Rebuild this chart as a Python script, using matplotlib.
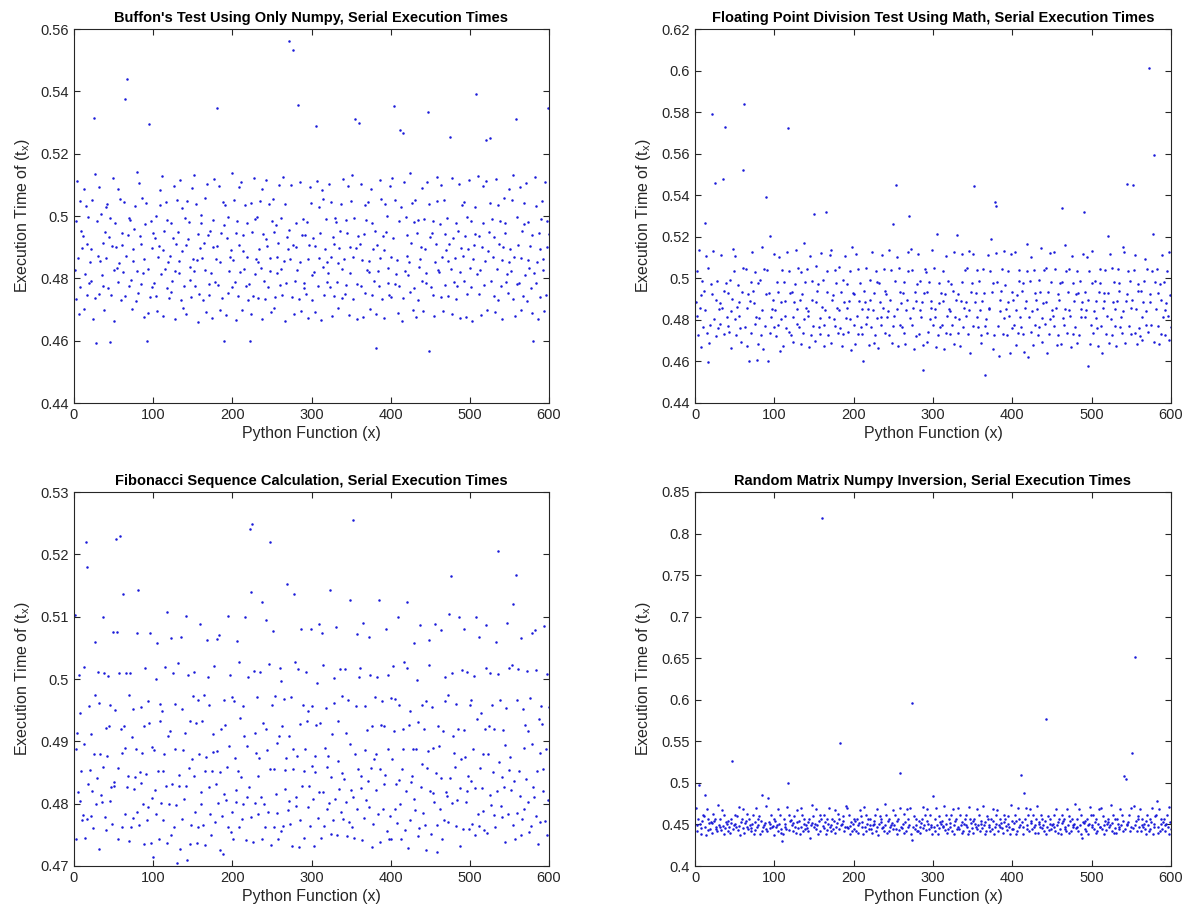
import numpy as np
import matplotlib
matplotlib.use('Agg')
import matplotlib.pyplot as plt
from matplotlib.ticker import MultipleLocator, FuncFormatter

plt.rcParams['font.family'] = ['Liberation Sans', 'DejaVu Sans']
plt.rcParams['mathtext.fontset'] = 'custom'
plt.rcParams['mathtext.rm'] = 'Liberation Sans'
plt.rcParams['mathtext.it'] = 'Liberation Sans'

# serial execution times per call, in units of 1e-4 s
buffon = [
    4827, 4983, 4733, 5112, 4866, 4684, 5047, 4772, 4951, 4896, 4936, 4702, 5088, 4815, 5031, 4748, 4909, 4997, 4785, 4853,
    4791, 4894, 5052, 4671, 5315, 4736, 5134, 4592, 4985, 4872, 5093, 4751, 4857, 5006, 4811, 4913, 4777, 4697, 4948, 5029,
    4864, 5038, 4768, 4932, 4597, 4992, 4745, 4905, 5121, 4826, 4663, 4979, 4901, 4834, 4789, 5087, 4848, 5054, 4731, 4944,
    4907, 4819, 5046, 4742, 5375, 4871, 5440, 4938, 4995, 4776, 4986, 4794, 4701, 4855, 4893, 4957, 5033, 4728, 4824, 5142,
    4752, 5106, 4935, 4911, 4781, 5059, 4817, 4862, 4676, 4974, 5041, 4600, 4829, 4688, 5295, 4739, 4983, 4897, 4773, 4947,
    4786, 4929, 4744, 5001, 4695, 4868, 4904, 5083, 5036, 4813, 5127, 4679, 4892, 4953, 4831, 5044, 4769, 4988, 4851, 4737,
    4873, 4755, 4979, 4792, 4931, 5096, 4668, 4822, 4910, 5050, 4949, 4816, 4856, 5114, 4732, 4889, 5027, 4706, 4777, 4993,
    4687, 4908, 5048, 4926, 4981, 4796, 4835, 4741, 5090, 4863, 4823, 5131, 4774, 5039, 4859, 4659, 4942, 4749, 4897, 5002,
    4976, 4866, 4730, 4913, 5057, 4828, 4693, 5104, 4939, 4783, 4746, 4952, 4818, 4672, 4899, 4987, 5118, 4788, 4861, 5345,
    4903, 4779, 5097, 4852, 4698, 4946, 4736, 5045, 4972, 4598, 5034, 4681, 4931, 4752, 4996, 4825, 4867, 4891, 5139, 4771,
    4858, 5051, 4787, 4944, 4666, 4984, 4743, 4906, 5092, 4819, 5108, 4699, 4887, 4938, 4829, 5035, 4775, 4979, 4870, 4731,
    4782, 4600, 5043, 4684, 4950, 4744, 5122, 4815, 4991, 4861, 4998, 4853, 4738, 4895, 5049, 4834, 4670, 5086, 4943, 4790,
    4735, 5117, 4927, 4903, 4771, 5040, 4822, 4865, 4692, 4985, 5055, 4705, 4948, 4739, 4972, 4817, 4869, 4912, 5098, 4779,
    4830, 4995, 4747, 5126, 4857, 4662, 5037, 4785, 4934, 4894, 4955, 5560, 4862, 5101, 4741, 4908, 5532, 4685, 4793, 4977,
    4899, 4826, 5355, 4733, 5109, 4854, 4696, 4939, 4989, 4770, 4784, 4940, 4751, 4982, 4674, 4863, 4907, 5093, 5042, 4812,
    4730, 4929, 4821, 4691, 4905, 5290, 5113, 4776, 4866, 5030, 4946, 4665, 5083, 4836, 5053, 4748, 4894, 4990, 4789, 4852,
    4817, 5104, 4772, 5046, 4870, 4678, 4933, 4742, 4911, 4994, 4980, 4788, 4706, 4849, 4896, 4951, 5038, 4737, 4829, 5119,
    4861, 4750, 4986, 4780, 4945, 5095, 4683, 4816, 4902, 5049, 5130, 4734, 4867, 4992, 5310, 4898, 4783, 4669, 4937, 5300,
    4910, 4774, 5102, 4859, 4675, 4942, 4752, 5034, 4987, 4828, 5044, 4856, 4819, 4701, 5088, 4745, 4978, 4893, 4791, 4953,
    4686, 4578, 4906, 4825, 4776, 5115, 4864, 5056, 4733, 4936, 4673, 4891, 5037, 4949, 4999, 4786, 4832, 4747, 5097, 4869,
    4741, 5123, 4928, 5352, 4781, 5052, 4814, 4858, 4689, 4983, 4777, 5275, 5030, 4664, 5265, 4738, 5108, 4823, 4996, 4872,
    4939, 4812, 4853, 5137, 4755, 4914, 5043, 4698, 4768, 4981, 5050, 4677, 4944, 4731, 4988, 4836, 4862, 4901, 5091, 4793,
    4695, 4991, 4895, 4818, 4784, 5110, 5335, 5039, 4568, 4932, 4773, 4947, 4746, 4985, 4680, 4851, 4909, 5126, 5048, 4827,
    4821, 4974, 4739, 5099, 4868, 4694, 5052, 4779, 4941, 4890, 4993, 4857, 4744, 4910, 5255, 4831, 4687, 5121, 4930, 4787,
    4866, 4735, 4977, 4774, 4953, 5103, 4672, 4819, 4896, 5036, 4871, 5045, 4792, 4936, 4676, 4996, 4751, 4893, 5114, 4833,
    4984, 4771, 4663, 4862, 4908, 4943, 5029, 5390, 4815, 5128, 4749, 4936, 4826, 4683, 4901, 4979, 5097, 4780, 4857, 5245,
    5111, 4700, 4889, 4950, 5250, 5041, 4790, 4989, 4868, 4743, 4932, 4692, 5120, 4829, 5035, 4730, 4911, 4985, 4775, 4860,
    4668, 4899, 5058, 4945, 4976, 4787, 4814, 4752, 5086, 4853, 4893, 4823, 5051, 4735, 5133, 4869, 4679, 5312, 4997, 4782,
    4906, 4785, 5094, 4864, 4697, 4952, 4744, 5043, 4973, 4811, 5105, 4728, 4858, 4981, 4832, 4904, 4770, 4688, 4938, 4600,
    4818, 5124, 4786, 5032, 4851, 4671, 4947, 4739, 4895, 4990, 5047, 4863, 4827, 4694, 5108, 4747, 4983, 4902, 5345, 4941,
]

float_div = [
    4884, 4817, 5033, 4726, 5138, 4859, 4671, 4922, 4986, 4764, 4937, 5268, 4846, 5107, 4738, 4595, 5049, 4690, 4775, 4973,
    4925, 5790, 5131, 4806, 5460, 4722, 4896, 4988, 4763, 4853, 4882, 4778, 5114, 4857, 5480, 4941, 4733, 5730, 4976, 4814,
    4772, 4928, 4741, 4990, 4664, 4845, 4899, 5142, 5036, 4803, 5109, 4725, 4861, 4969, 4819, 4887, 4760, 4695, 4934, 5052,
    5520, 5840, 4768, 5044, 4855, 4673, 4924, 4600, 4893, 4984, 4736, 5126, 4939, 4881, 4779, 5031, 4812, 4605, 4686, 4977,
    4809, 4992, 4727, 5150, 4848, 4660, 5045, 4771, 4926, 5390, 5038, 4600, 4931, 4735, 5203, 4816, 4852, 4895, 5117, 4766,
    4847, 4723, 4981, 4774, 4936, 5101, 4648, 4806, 4886, 5042, 4676, 4983, 4892, 4819, 4761, 5129, 5725, 5036, 4741, 4929,
    4728, 4933, 4813, 4692, 4888, 4971, 5134, 4779, 4851, 5051, 4765, 4897, 5030, 4683, 4927, 4737, 5171, 4804, 4980, 4856,
    5047, 4843, 4817, 4668, 5109, 4726, 4985, 4894, 4772, 5310, 4699, 4884, 5058, 4940, 4975, 4768, 4809, 4732, 5123, 4862,
    4991, 4776, 4672, 4848, 5320, 4936, 5034, 4727, 4815, 5113, 5138, 4687, 4897, 4921, 4803, 5040, 4771, 4979, 4857, 4739,
    4846, 5053, 4762, 4932, 4675, 4994, 4730, 4888, 5106, 4811, 4973, 4859, 4742, 4893, 5037, 4806, 4654, 5152, 4928, 4774,
    4924, 4685, 5119, 4820, 5046, 4733, 4889, 4976, 4767, 4851, 4734, 4600, 4938, 4886, 4779, 5049, 4813, 4854, 4679, 4990,
    4894, 4766, 5128, 4849, 4690, 4931, 4725, 5035, 4983, 4807, 4667, 4978, 4884, 4816, 4775, 5114, 4858, 5043, 4736, 4939,
    4926, 4812, 4843, 5135, 4729, 4897, 5040, 4688, 4769, 5262, 4818, 4986, 5450, 5104, 4853, 4674, 5051, 4773, 4934, 4882,
    4764, 4929, 4738, 4982, 4683, 4846, 4895, 5125, 5034, 5300, 4809, 5141, 4776, 5039, 4857, 4661, 4935, 4724, 4891, 4975,
    5116, 4733, 4849, 4987, 4812, 4887, 4560, 4681, 4928, 5045, 5032, 4694, 4933, 4740, 4984, 4806, 4859, 4892, 5136, 4773,
    5048, 4851, 4813, 4671, 5214, 4728, 4977, 4883, 4768, 4931, 4774, 4890, 5036, 4658, 4927, 4736, 5108, 4820, 4988, 4853,
    4845, 4731, 4975, 4777, 4938, 5127, 4686, 4812, 4895, 5208, 4739, 4924, 4806, 4673, 4893, 4981, 5115, 4765, 4859, 5041,
    4887, 4818, 5050, 4731, 5132, 4850, 4640, 4936, 4979, 4772, 5119, 5445, 4884, 4931, 4815, 5038, 4766, 4985, 4848, 4727,
    4690, 4893, 5043, 4929, 4535, 4770, 4805, 4738, 5110, 4857, 4852, 5037, 5187, 4934, 4662, 4977, 4728, 5365, 5124, 5350,
    4982, 4769, 4627, 4843, 4895, 4937, 5047, 4734, 4811, 5133, 4970, 4854, 4726, 4886, 5035, 4819, 4640, 5118, 4933, 4763,
    4897, 4775, 5127, 4846, 4679, 4921, 4739, 5042, 4989, 4814, 4767, 4938, 4733, 4976, 4647, 4858, 4891, 5166, 5033, 4620,
    4815, 4985, 4741, 5103, 4845, 4679, 5040, 4774, 4929, 4894, 4853, 4727, 4993, 4765, 4934, 5148, 4693, 4810, 4882, 5039,
    4778, 4887, 5052, 4641, 4936, 4731, 5124, 4806, 4983, 4848, 4820, 5127, 4769, 5043, 4859, 4677, 4925, 4729, 4896, 4978,
    4685, 4981, 5340, 4807, 4773, 5161, 4854, 5036, 4738, 4936, 5046, 4849, 4818, 4668, 5107, 4734, 4979, 4890, 4767, 4925,
    5034, 4690, 4929, 4725, 4987, 4812, 4853, 4886, 5119, 5320, 4933, 4814, 4848, 5104, 4580, 4895, 5037, 4686, 4775, 4976,
    5131, 4739, 4842, 4986, 4809, 4889, 4763, 4675, 4935, 5043, 4978, 4772, 4643, 4857, 4893, 4928, 5039, 4732, 4818, 5204,
    4931, 4691, 5117, 4805, 5049, 4726, 4884, 4983, 4770, 4852, 4673, 4893, 5045, 4938, 4977, 4766, 4816, 4735, 5150, 4845,
    5126, 4688, 4891, 4924, 5455, 5034, 4771, 4986, 4858, 4730, 4897, 5450, 5041, 4737, 5112, 4851, 4682, 4939, 4975, 4763,
    4724, 4937, 4812, 4705, 4886, 4987, 5094, 4773, 4844, 5047, 4741, 6010, 4926, 4888, 4776, 5036, 5211, 5595, 4695, 4981,
    4852, 5046, 4771, 4930, 4684, 4975, 4733, 4897, 5110, 4813, 4984, 4846, 4725, 4883, 5037, 4819, 4702, 5128, 4921, 4768,
]

fibonacci = [
    5103, 4744, 4888, 4914, 4818, 5006, 4804, 4945, 4853, 4773, 4782, 4895, 5019, 4745, 5220, 4776, 5180, 4832, 4956, 4854,
    4780, 4911, 4821, 4761, 4879, 4974, 5059, 4799, 4841, 5011, 4727, 4962, 4879, 4814, 4803, 5100, 4859, 5009, 4778, 4921,
    4758, 4876, 5005, 4924, 4958, 4804, 4826, 4768, 5076, 4835, 4828, 4951, 5225, 5076, 4858, 4743, 5010, 5230, 4919, 4881,
    4763, 5137, 4924, 4890, 4784, 5009, 4827, 4844, 4740, 4974, 5010, 4763, 4907, 4777, 4952, 4823, 4842, 4888, 5073, 4787,
    5142, 4765, 4851, 4955, 4833, 4881, 4800, 4736, 4924, 5017, 4847, 4774, 4965, 4794, 4929, 5074, 4737, 4809, 4891, 4715,
    4886, 4822, 5000, 4784, 5058, 4852, 4743, 4932, 4960, 4801, 4948, 4852, 4774, 4880, 5020, 4828, 4737, 5108, 4908, 4799,
    4917, 4749, 5066, 4832, 5010, 4763, 4888, 4960, 4798, 4705, 5025, 4846, 4829, 4728, 5067, 4775, 4952, 4886, 4807, 4914,
    4829, 5101, 4710, 5006, 4858, 4735, 4932, 4766, 4872, 4972, 4845, 5011, 4787, 4930, 4737, 4966, 4763, 4879, 5089, 4819,
    4799, 4932, 4766, 4975, 4733, 4853, 4875, 5063, 5004, 4826, 4959, 4783, 4749, 4852, 4883, 4911, 5021, 4771, 4831, 5064,
    4884, 4801, 5071, 4851, 4725, 4920, 4780, 4719, 4967, 4815, 4927, 4806, 4859, 5101, 4762, 4892, 5007, 4754, 4787, 4971,
    4743, 4965, 4874, 4822, 4803, 5061, 4852, 5027, 4763, 4938, 4842, 4775, 4957, 4799, 4908, 5099, 4742, 4811, 4892, 5003,
    4827, 5240, 4778, 5140, 5248, 4738, 5013, 4801, 4913, 4881, 4971, 4844, 4784, 4874, 5011, 4811, 4744, 5124, 4930, 4799,
    4762, 5095, 4919, 4886, 4786, 5024, 5220, 4855, 4734, 4959, 5077, 4762, 4856, 4972, 4815, 4898, 4785, 4743, 4909, 5017,
    4996, 4756, 4924, 4764, 4968, 4824, 4854, 4874, 5152, 4790, 4805, 4909, 4767, 4971, 4732, 4855, 4888, 5136, 5028, 4810,
    4796, 4876, 5016, 4730, 4928, 4774, 5081, 4828, 4958, 4852, 4745, 4887, 5011, 4933, 4949, 4794, 4828, 4764, 5080, 4860,
    4957, 4808, 4732, 4851, 4877, 4927, 4994, 4777, 4818, 5088, 4929, 4745, 5073, 4818, 5023, 4764, 4890, 4954, 4792, 4859,
    4876, 4801, 5142, 4842, 4752, 4912, 4774, 5002, 4962, 4807, 5083, 4750, 4869, 4932, 4824, 5016, 4786, 4973, 4849, 4776,
    4839, 5016, 4802, 4914, 4748, 4967, 4771, 4896, 5127, 4822, 4762, 5255, 4811, 4745, 4879, 4956, 5072, 4792, 4855, 5004,
    5017, 4845, 4825, 4742, 5090, 4777, 4956, 4886, 4806, 4918, 4836, 5068, 4795, 5007, 4858, 4730, 4924, 4768, 4871, 4971,
    4880, 4822, 5003, 4783, 5127, 4855, 4738, 4926, 4964, 4791, 4924, 4831, 4846, 5080, 4756, 4887, 5006, 4744, 4780, 4969,
    4744, 4872, 5021, 4916, 4968, 4791, 4831, 4769, 5100, 4838, 4958, 4800, 4744, 4856, 4887, 4919, 5027, 4758, 4821, 5123,
    5017, 4729, 4927, 4774, 4949, 4835, 4844, 4888, 5057, 4808, 4790, 4887, 4998, 4748, 4931, 4761, 5086, 4827, 4959, 4864,
    4785, 4919, 4765, 4964, 4725, 4858, 4885, 5062, 5022, 4821, 4752, 4955, 4889, 4817, 4802, 5088, 4850, 4723, 4765, 4924,
    4893, 4791, 5078, 4841, 4743, 4917, 4773, 5004, 4964, 4818, 4812, 4974, 4771, 5104, 4841, 5165, 5009, 4801, 4909, 4882,
    4859, 4764, 4960, 4806, 4919, 5099, 4732, 4825, 4871, 5014, 4760, 5080, 4918, 4875, 4802, 5012, 4821, 4844, 4759, 4959,
    4967, 4837, 4768, 4888, 5005, 4825, 4749, 5100, 4936, 4783, 5068, 4764, 4858, 4946, 4825, 4879, 4788, 4758, 4919, 5017,
    5087, 4753, 4880, 4925, 4814, 5009, 4798, 4958, 4851, 4782, 4919, 4762, 5059, 4821, 5008, 5205, 4867, 4967, 4796, 4842,
    4779, 4918, 4827, 4738, 4894, 4954, 5090, 4783, 4854, 5017, 4875, 4822, 5023, 4766, 5121, 4836, 4744, 5167, 4966, 4785,
    5016, 4852, 4812, 4749, 5065, 4776, 4952, 4889, 4791, 4927, 4839, 5013, 4802, 4916, 4754, 4969, 4764, 4895, 5074, 4826,
    4810, 5079, 4780, 5015, 4852, 4735, 4936, 4771, 4882, 4956, 4928, 4820, 4856, 5085, 4772, 4888, 5008, 4749, 4806, 4955,
]

matrix_inv = [
    4702, 4421, 4493, 4569, 4970, 4507, 4454, 4388, 4538, 4617, 4604, 4850, 4473, 4377, 4681, 4429, 4560, 4513, 4446, 4531,
    4401, 4514, 4622, 4539, 4571, 4447, 4466, 4419, 4735, 4494, 4474, 4562, 4428, 4676, 4486, 4383, 4608, 4455, 4532, 4505,
    4421, 4539, 4468, 4392, 4515, 4570, 5260, 4448, 4493, 4615, 4508, 4475, 4603, 4430, 4711, 4487, 4379, 4533, 4567, 4452,
    4683, 4398, 4512, 4540, 4469, 4621, 4445, 4561, 4491, 4423, 4456, 4507, 4614, 4386, 4532, 4428, 4697, 4472, 4568, 4488,
    4607, 4391, 4537, 4420, 4860, 4466, 4494, 4515, 4722, 4449, 4427, 4822, 4531, 4509, 4453, 4618, 4471, 4486, 4372, 4563,
    4536, 4468, 4492, 4688, 4424, 4511, 4609, 4396, 4451, 4300, 4389, 4566, 4505, 4473, 4447, 4708, 5000, 4613, 4429, 4538,
    4559, 4489, 4418, 4514, 4602, 4470, 4401, 4676, 4533, 4455, 4539, 4385, 4694, 4467, 4619, 4422, 4508, 4570, 4448, 4496,
    4452, 4531, 4426, 4564, 4340, 4488, 4513, 4730, 4606, 4469, 4509, 4446, 4684, 4493, 4390, 4537, 4420, 4612, 4562, 8190,
    4487, 4608, 4453, 4534, 4381, 4567, 4428, 4506, 4699, 4471, 4494, 4422, 4568, 4449, 4536, 4675, 4393, 4466, 4512, 4620,
    4563, 4447, 5480, 4491, 4508, 4540, 4603, 4427, 4474, 4717, 4468, 4692, 4452, 4616, 4487, 4383, 4534, 4425, 4510, 4566,
    4448, 4538, 4424, 4561, 4399, 4493, 4515, 4679, 4607, 4472, 4533, 4388, 4706, 4469, 4611, 4426, 4507, 4568, 4451, 4489,
    4567, 4449, 4394, 4492, 4511, 4537, 4618, 4421, 4470, 4686, 4378, 4509, 4605, 4534, 4563, 4453, 4473, 4427, 4741, 4488,
    4613, 4396, 4536, 4424, 4569, 4467, 4495, 4512, 4673, 4446, 4491, 4609, 4448, 4538, 4387, 4562, 4428, 5120, 4702, 4469,
    4454, 4508, 4621, 4392, 4533, 4423, 4680, 4471, 4566, 4493, 4697, 4384, 4310, 5960, 4474, 4607, 4450, 4564, 4488, 4426,
    4422, 4536, 4467, 4401, 4513, 4568, 4714, 4452, 4491, 4612, 4428, 4688, 4539, 4505, 4447, 4617, 4472, 4489, 4390, 4840,
    4468, 4567, 4421, 4699, 4494, 4381, 4604, 4453, 4533, 4511, 4537, 4471, 4487, 4725, 4429, 4508, 4615, 4397, 4448, 4563,
    4514, 4466, 4608, 4424, 4681, 4492, 4389, 4538, 4569, 4451, 4473, 4693, 4449, 4612, 4488, 4394, 4534, 4427, 4507, 4561,
    4609, 4491, 4469, 4385, 4710, 4423, 4566, 4512, 4452, 4536, 4398, 4562, 4509, 4472, 4447, 4684, 4493, 4614, 4425, 4539,
    4511, 4453, 4727, 4489, 4391, 4534, 4421, 4606, 4568, 4468, 4492, 4427, 4563, 4448, 4537, 4690, 4382, 4471, 4507, 4611,
    4678, 4422, 4490, 4567, 4474, 4513, 4452, 4393, 4535, 4619, 4562, 4487, 4428, 4509, 4605, 4467, 4386, 4736, 4538, 4449,
    4451, 4512, 4617, 4391, 4536, 4425, 4694, 4473, 4566, 4489, 5100, 4534, 4470, 4387, 4880, 4564, 4701, 4447, 4493, 4608,
    4424, 4683, 4537, 4513, 4450, 4611, 4468, 4492, 4396, 4569, 4719, 4392, 4507, 4533, 4472, 4614, 4453, 4563, 4488, 4421,
    4539, 4384, 5770, 4469, 4607, 4428, 4511, 4567, 4449, 4494, 4509, 4473, 4612, 4422, 4690, 4488, 4393, 4532, 4561, 4451,
    4385, 4514, 4609, 4536, 4568, 4448, 4471, 4426, 4686, 4491, 4604, 4399, 4538, 4423, 4564, 4467, 4493, 4508, 4743, 4452,
    4472, 4561, 4427, 4688, 4489, 4390, 4615, 4340, 4534, 4512, 4449, 4537, 4424, 4567, 4383, 4492, 4509, 4707, 4610, 4468,
    4491, 4613, 4451, 4533, 4397, 4563, 4421, 4511, 4680, 4473, 4470, 4699, 4448, 4606, 4493, 4388, 4538, 4428, 4507, 4566,
    4534, 4468, 4489, 4729, 4423, 4513, 4611, 4392, 4453, 4562, 4394, 4568, 4508, 4471, 4450, 4684, 4491, 4608, 4426, 4537,
    5080, 4448, 5050, 4488, 4511, 4533, 4614, 4424, 4469, 4697, 5360, 4452, 4716, 4490, 6520, 4536, 4427, 4607, 4563, 4471,
    4689, 4423, 4492, 4566, 4468, 4509, 4449, 4386, 4538, 4612, 4493, 4426, 4562, 4451, 4534, 4702, 4391, 4473, 4511, 4607,
    4616, 4780, 4467, 4398, 4686, 4421, 4567, 4508, 4447, 4535, 4564, 4490, 4425, 4511, 4609, 4472, 4389, 4711, 4533, 4451,
]

titles = [
    "Buffon's Test Using Only Numpy, Serial Execution Times",
    "Floating Point Division Test Using Math, Serial Execution Times",
    "Fibonacci Sequence Calculation, Serial Execution Times",
    "Random Matrix Numpy Inversion, Serial Execution Times",
]
ylims = [(0.44, 0.56), (0.44, 0.62), (0.47, 0.53), (0.4, 0.85)]
ysteps = [0.02, 0.02, 0.01, 0.05]
series = [buffon, float_div, fibonacci, matrix_inv]

W, H = 1196, 913
fig = plt.figure(figsize=(W / 100, H / 100), dpi=100)

# axes boxes in pixels: left, top, right, bottom
boxes = [(74, 29, 549, 403), (695, 29, 1171, 403),
         (74, 492, 549, 866), (695, 492, 1171, 866)]

grey = '#262626'
for vals, title, ylim, step, (l, t, r, b) in zip(series, titles, ylims, ysteps, boxes):
    ax = fig.add_axes([l / W, 1 - b / H, (r - l) / W, (b - t) / H])
    y = np.array(vals) / 1e4
    x = np.arange(1, len(y) + 1)
    ax.plot(x, y, 'o', color=(0.1, 0.1, 0.85), markersize=1.8,
            markeredgewidth=0, snap=False)
    ax.set_xlim(0, 600)
    ax.set_ylim(*ylim)
    ax.xaxis.set_major_locator(MultipleLocator(100))
    ax.yaxis.set_major_locator(MultipleLocator(step))
    ax.yaxis.set_major_formatter(FuncFormatter(lambda v, p: '%g' % round(v, 4)))
    ax.tick_params(direction='in', top=True, right=True, length=4, width=0.8,
                   labelsize=10.5, colors=grey, labelcolor=grey)
    for s in ax.spines.values():
        s.set_color(grey)
        s.set_linewidth(0.8)
    ax.set_title(title, fontsize=10.5, fontweight='bold', pad=5)
    ax.set_xlabel('Python Function (x)', fontsize=11.5, color=grey, labelpad=3)
    ax.set_ylabel(r'Execution Time of (t$_\mathrm{x}$)', fontsize=11.5, color=grey, labelpad=6)

fig.savefig('out.png', dpi=100, facecolor='white')
